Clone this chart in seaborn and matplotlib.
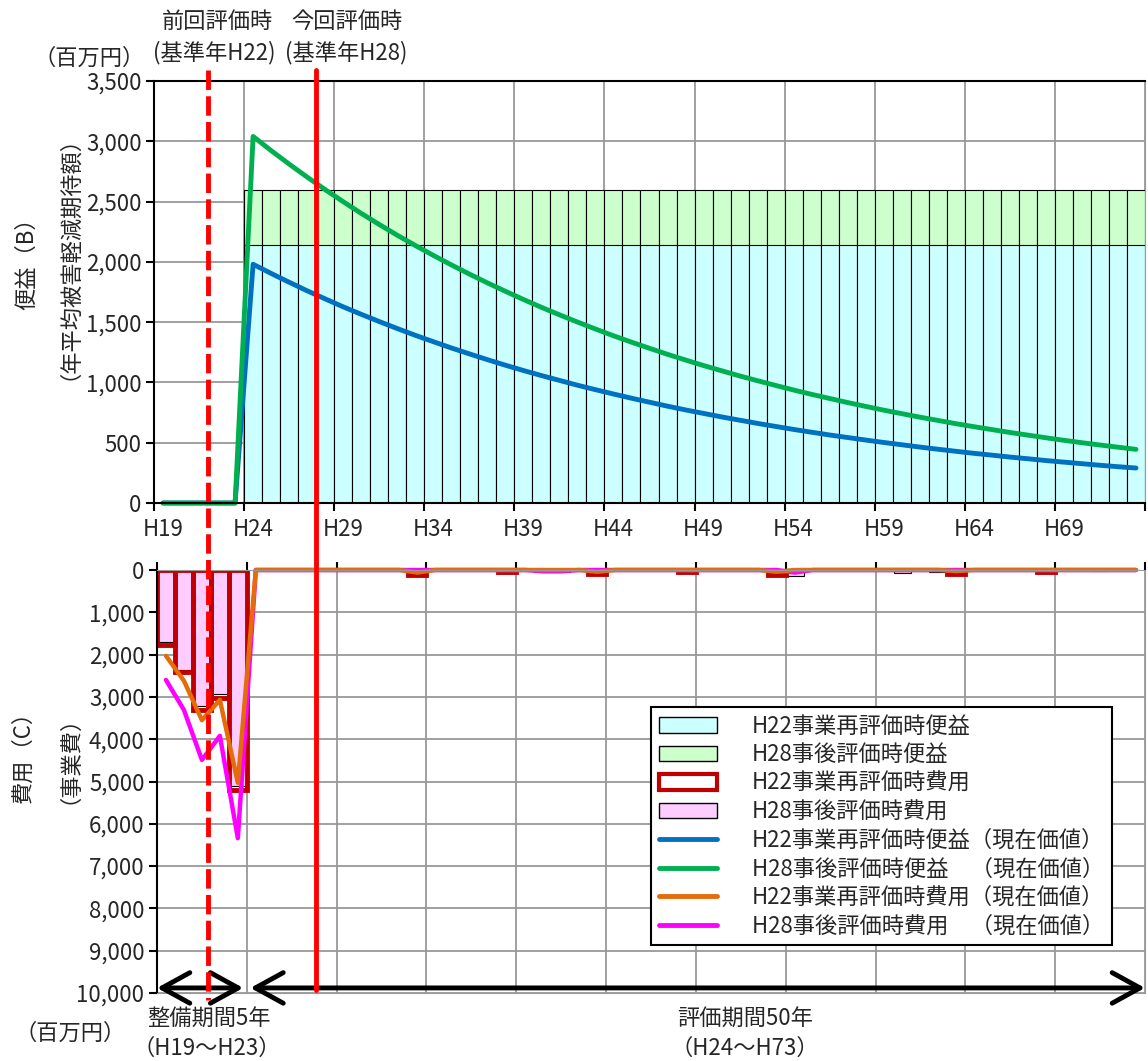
import numpy as np
import pandas as pd
import matplotlib
matplotlib.use('Agg')
import matplotlib.pyplot as plt
import seaborn as sns
from matplotlib.patches import Patch
from matplotlib.lines import Line2D
from matplotlib import transforms

# years H19 .. H73 (5 construction years + 50 evaluation years)
years = ['H%d' % y for y in range(19, 74)]
eval_years = years[5:]

# annual benefit (bars)
benefit_h22 = [2140] * 50
benefit_h28 = [2595] * 50

# present value of benefits (lines)
benefit_pv_h22 = [0, 0, 0, 0, 0,
                  1980, 1904, 1831, 1760, 1693, 1627, 1565, 1505, 1447, 1391,
                  1338, 1286, 1237, 1189, 1143, 1099, 1057, 1017, 977, 940,
                  904, 869, 836, 803, 772, 743, 714, 687, 660, 635,
                  610, 587, 564, 543, 522, 502, 483, 464, 446, 429,
                  412, 397, 381, 367, 352, 339, 326, 313, 301, 290]
benefit_pv_h28 = [0, 0, 0, 0, 0,
                  3040, 2923, 2811, 2703, 2599, 2499, 2402, 2310, 2221, 2136,
                  2054, 1975, 1899, 1826, 1756, 1688, 1623, 1561, 1501, 1443,
                  1387, 1334, 1283, 1233, 1186, 1140, 1097, 1054, 1014, 975,
                  937, 901, 867, 833, 801, 770, 741, 712, 685, 658,
                  633, 609, 585, 563, 541, 520, 500, 481, 463, 445]

# project costs (bars)
cost_years_h22 = ['H19', 'H20', 'H21', 'H22', 'H23', 'H33', 'H38', 'H43', 'H48', 'H53', 'H63', 'H68']
cost_h22 = [1765, 2410, 3300, 3030, 5200, 110, 40, 100, 40, 130, 100, 40]
cost_years_h28 = ['H19', 'H20', 'H21', 'H22', 'H23', 'H40', 'H41', 'H54', 'H60', 'H62', 'H71']
cost_h28 = [1700, 2356, 3215, 2930, 5100, 40, 40, 150, 80, 50, 30]

# present value of costs (lines), H19 .. H73
cost_pv_h22 = [2030, 2620, 3550, 3070, 5030] + [0] * 50
cost_pv_h22[14] = 60
cost_pv_h22[24] = 40
cost_pv_h22[34] = 40
cost_pv_h22[44] = 25
cost_pv_h28 = [2600, 3310, 4490, 3920, 6340] + [0] * 50
cost_pv_h28[21] = 30
cost_pv_h28[22] = 30
cost_pv_h28[35] = 60

sns.set_style('white')
plt.rcParams['font.family'] = ['Noto Sans CJK JP', 'DejaVu Sans']
plt.rcParams['axes.unicode_minus'] = False
FS = 16

W, H = 1148, 1061
fig = plt.figure(figsize=(W / 100, H / 100), dpi=100)


def rect(l, t, r, b):
    return [l / W, 1 - b / H, (r - l) / W, (b - t) / H]


ax1 = fig.add_axes(rect(154, 81, 1145, 503))
ax2 = fig.add_axes(rect(157, 570, 1145, 993))
xpos = np.arange(len(years))
grid_col = '#999999'

# ---- upper chart: benefits ----
df_b28 = pd.DataFrame({'year': eval_years, 'value': benefit_h28})
df_b22 = pd.DataFrame({'year': eval_years, 'value': benefit_h22})
sns.barplot(data=df_b28, x='year', y='value', order=years, color='#CCFFCC', saturation=1,
            width=1, edgecolor='black', linewidth=0.8, errorbar=None, ax=ax1)
sns.barplot(data=df_b22, x='year', y='value', order=years, color='#CCFFFF', saturation=1,
            width=1, edgecolor='black', linewidth=0.8, errorbar=None, ax=ax1)
sns.lineplot(x=xpos, y=benefit_pv_h22, color='#0070C0', lw=3.5, legend=False, ax=ax1, clip_on=False)
sns.lineplot(x=xpos, y=benefit_pv_h28, color='#00B050', lw=3.5, legend=False, ax=ax1, clip_on=False)

# ---- lower chart: costs ----
df_c28 = pd.DataFrame({'year': cost_years_h28, 'value': cost_h28})
df_c22 = pd.DataFrame({'year': cost_years_h22, 'value': cost_h22})
sns.barplot(data=df_c28, x='year', y='value', order=years, color='#FFCCFF', saturation=1,
            width=1, edgecolor='black', linewidth=0.8, errorbar=None, ax=ax2)
sns.barplot(data=df_c22, x='year', y='value', order=years, color='#C00000', saturation=1,
            width=1, fill=False, linewidth=3.5, errorbar=None, ax=ax2)
sns.lineplot(x=xpos, y=cost_pv_h28, color='#FF00FF', lw=3.2, legend=False, ax=ax2, clip_on=False)
sns.lineplot(x=xpos, y=cost_pv_h22, color='#E46C0A', lw=3.2, legend=False, ax=ax2, clip_on=False)

bounds = np.arange(-0.5, 55, 5)
centers = np.arange(0, 51, 5)

for ax in (ax1, ax2):
    ax.set_xlim(-0.5, 54.5)
    ax.set_xlabel('')
    ax.set_ylabel('')
    ax.set_axisbelow(True)
    ax.set_xticks(bounds)
    ax.set_xticklabels([])
    ax.grid(True, which='major', color=grid_col, lw=1.3)
    ax.spines['left'].set_color('black')
    ax.spines['left'].set_linewidth(1.5)
    ax.spines['right'].set_color(grid_col)
    ax.tick_params(axis='y', which='major', left=True, length=6, width=1.5, color='black',
                   direction='out', labelsize=FS, pad=3)

ax1.set_ylim(0, 3500)
ax1.set_yticks(np.arange(0, 3501, 500))
ax1.set_yticklabels(['{:,}'.format(v) for v in range(0, 3501, 500)])
ax1.set_xticks(centers, minor=True)
ax1.set_xticklabels(years[::5], minor=True)
ax1.tick_params(axis='x', which='major', bottom=True, length=6, width=1.5, color='black', direction='out')
ax1.tick_params(axis='x', which='minor', bottom=True, length=0, pad=11, labelsize=FS)
ax1.spines['bottom'].set_color('black')
ax1.spines['bottom'].set_linewidth(1.5)
ax1.spines['top'].set_color('black')
ax1.spines['top'].set_linewidth(1.5)

ax2.set_ylim(10000, 0)
ax2.set_yticks(np.arange(0, 10001, 1000))
ax2.set_yticklabels(['{:,}'.format(v) for v in range(0, 10001, 1000)])
ax2.xaxis.set_ticks_position('top')
ax2.tick_params(axis='x', which='major', top=True, bottom=False, labeltop=False, labelbottom=False,
                length=6, width=1.5, color='black', direction='out')
ax2.spines['top'].set_color(grid_col)
ax2.spines['bottom'].set_color(grid_col)

# period arrows
arrow_kw = dict(arrowstyle='<->,head_length=1.0,head_width=0.55', lw=3.5, color='black',
                shrinkA=0, shrinkB=0, mutation_scale=20)
ax2.annotate('', xy=(4.3, 9880), xytext=(-0.5, 9880), arrowprops=arrow_kw, annotation_clip=False)
ax2.annotate('', xy=(54.5, 9880), xytext=(4.7, 9880), arrowprops=arrow_kw, annotation_clip=False)

# evaluation time markers across both charts
tr = transforms.blended_transform_factory(ax1.transData, fig.transFigure)
fig.add_artist(Line2D([2.5, 2.5], [1 - 70 / H, 1 - 1000 / H], transform=tr, color='#FF0000',
                      lw=3.5, dashes=(4, 1.3), zorder=10))
fig.add_artist(Line2D([8.5, 8.5], [1 - 70 / H, 1 - 990 / H], transform=tr, color='#FF0000',
                      lw=3.5, zorder=10))

# texts
def ftext(x, y, s, **kw):
    kw.setdefault('fontsize', FS)
    fig.text(x / W, 1 - y / H, s, ha='center', va='center', **kw)


ftext(217, 21, '前回評価時')
ftext(214, 53, '(基準年H22)')
ftext(347, 21, '今回評価時')
ftext(346, 53, '(基準年H28)')
ftext(89, 58, '（百万円）')
ftext(27, 258, '便益（B）', rotation=90)
ftext(58, 247, '（年平均被害軽減期待額）', rotation=90)
ftext(23, 751, '費用（C）', rotation=90)
ftext(58, 748, '（事業費）', rotation=90)
ftext(209, 1018, '整備期間5年')
ftext(207, 1048, '（H19～H23）')
ftext(745, 1018, '評価期間50年')
ftext(745, 1048, '（H24～H73）')
ftext(70, 1033, '（百万円）')

# legend
handles = [
    Patch(facecolor='#CCFFFF', edgecolor='black', lw=1),
    Patch(facecolor='#CCFFCC', edgecolor='black', lw=1),
    Patch(facecolor='white', edgecolor='#C00000', lw=3),
    Patch(facecolor='#FFCCFF', edgecolor='black', lw=1),
    Line2D([], [], color='#0070C0', lw=3.5),
    Line2D([], [], color='#00B050', lw=3.5),
    Line2D([], [], color='#E46C0A', lw=3.5),
    Line2D([], [], color='#FF00FF', lw=3.5),
]
labels = ['H22事業再評価時便益', 'H28事後評価時便益', 'H22事業再評価時費用', 'H28事後評価時費用',
          'H22事業再評価時便益（現在価値）', 'H28事後評価時便益　（現在価値）',
          'H22事業再評価時費用（現在価値）', 'H28事後評価時費用　（現在価値）']
leg = ax2.legend(handles, labels, loc='upper left', bbox_to_anchor=(651 / W, 1 - 707 / H),
                 bbox_transform=fig.transFigure, fontsize=FS, frameon=True, fancybox=False,
                 framealpha=1, edgecolor='black', handlelength=2.6, handletextpad=1.6,
                 labelspacing=0.25, borderpad=0.35, borderaxespad=0)
leg.get_frame().set_linewidth(1.5)

fig.savefig('out.png', dpi=100)
